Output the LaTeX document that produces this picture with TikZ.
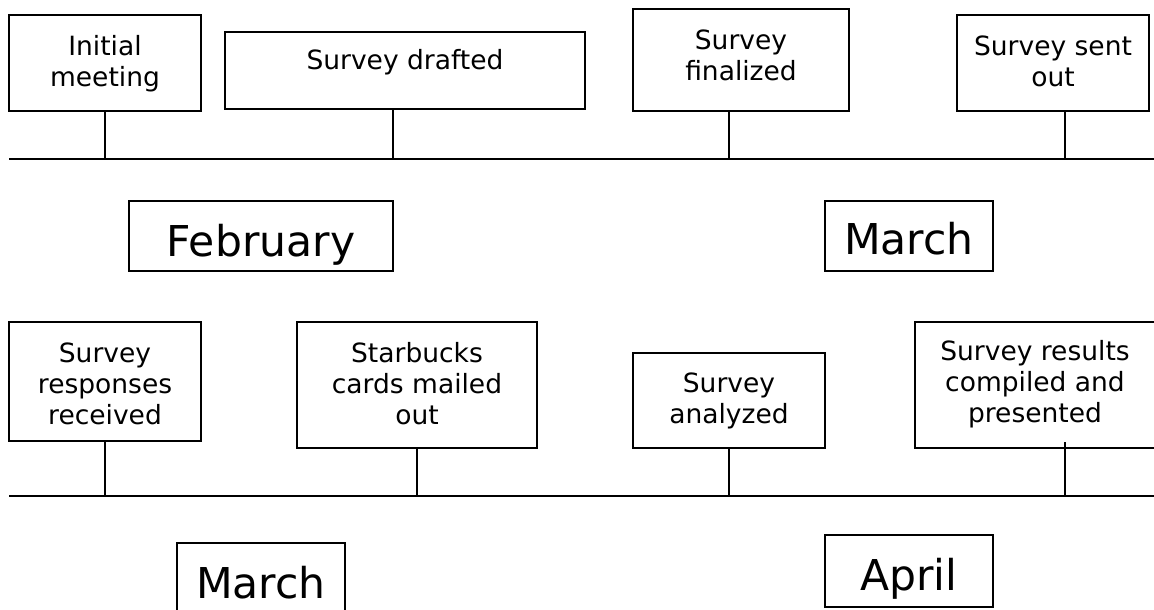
\documentclass[tikz,border=0pt]{standalone}
\usepackage{fontspec}
\setmainfont{DejaVu Sans}
\usetikzlibrary{calc}
\begin{document}
\begin{tikzpicture}[x=1pt,y=-1pt,
  box/.style={draw=black, line width=1.4pt, rectangle, inner sep=0pt, outer sep=0pt, anchor=north west},
  lbl/.style={font=\fontsize{26.5}{31}\selectfont, align=center, inner sep=0pt, anchor=base},
  mon/.style={font=\fontsize{42.5}{50}\selectfont, inner sep=0pt, anchor=base},
  timeline/.style={line width=2.4pt},
  stem/.style={line width=2pt}]
\useasboundingbox (0,0) rectangle (1154,610);
% ---- top row boxes
\node[box, minimum width=192pt, minimum height=96pt]  (im) at (9,15) {};
\node[box, minimum width=360pt, minimum height=77pt]  (sd) at (225,32) {};
\node[box, minimum width=216pt, minimum height=102pt] (sf) at (633,9) {};
\node[box, minimum width=192pt, minimum height=96pt]  (so) at (957,15) {};
% (base anchor of a multi-line label = baseline of its last line)
\node[lbl] (imt) at (105,86)  {Initial\\meeting};
\node[lbl] (sdt) at (405,70)  {Survey drafted};
\node[lbl] (sft) at (741,81)  {Survey\\finalized};
\node[lbl] (sot) at (1053,86) {Survey sent\\out};
% ---- top timeline
\coordinate (L1s) at (9,159);
\coordinate (L1e) at (1154,159);
\coordinate (p1) at (105,159);
\coordinate (p2) at (393,159);
\coordinate (p3) at (729,159);
\coordinate (p4) at (1065,159);
\draw[timeline] (L1s) -- (L1e);
\draw[stem] (im.south -| p1) -- (p1);
\draw[stem] (sd.south -| p2) -- (p2);
\draw[stem] (sf.south -| p3) -- (p3);
\draw[stem] (so.south -| p4) -- (p4);
% ---- months
\node[box, minimum width=264pt, minimum height=70pt] (feb) at (129,201) {};
\node[box, minimum width=168pt, minimum height=70pt] (mar1) at (825,201) {};
\node[mon] (febt) at (261,256) {February};
\node[mon] (mar1t) at (909,254) {March};
% ---- bottom row boxes
\node[box, minimum width=192pt, minimum height=119pt] (sr) at (9,322) {};
\node[box, minimum width=240pt, minimum height=126pt] (sc) at (297,322) {};
\node[box, minimum width=192pt, minimum height=95pt]  (sa) at (633,353) {};
\node[box, minimum width=245pt, minimum height=126pt] (sp) at (915,322) {};
\node[lbl] (srt) at (105,424)  {Survey\\responses\\received};
\node[lbl] (sct) at (417,424)  {Starbucks\\cards mailed\\out};
\node[lbl] (sat) at (729,423)  {Survey\\analyzed};
\node[lbl] (spt) at (1035,422) {Survey results\\compiled and\\presented};
% ---- bottom timeline
\coordinate (L2s) at (9,496);
\coordinate (L2e) at (1154,496);
\coordinate (q1) at (105,496);
\coordinate (q2) at (417,496);
\coordinate (q3) at (729,496);
\coordinate (q4) at (1065,496);
\coordinate (q4top) at (1065,442);
\draw[timeline] (L2s) -- (L2e);
\draw[stem] (sr.south -| q1) -- (q1);
\draw[stem] (sc.south -| q2) -- (q2);
\draw[stem] (sa.south -| q3) -- (q3);
\draw[stem] (q4top) -- (q4);
% ---- months
\node[box, minimum width=168pt, minimum height=90pt] (mar2) at (177,543) {};
\node[box, minimum width=168pt, minimum height=72pt] (apr) at (825,535) {};
\node[mon] (mar2t) at (261,598) {March};
\node[mon] (aprt) at (909,590) {April};
\end{tikzpicture}
\end{document}
